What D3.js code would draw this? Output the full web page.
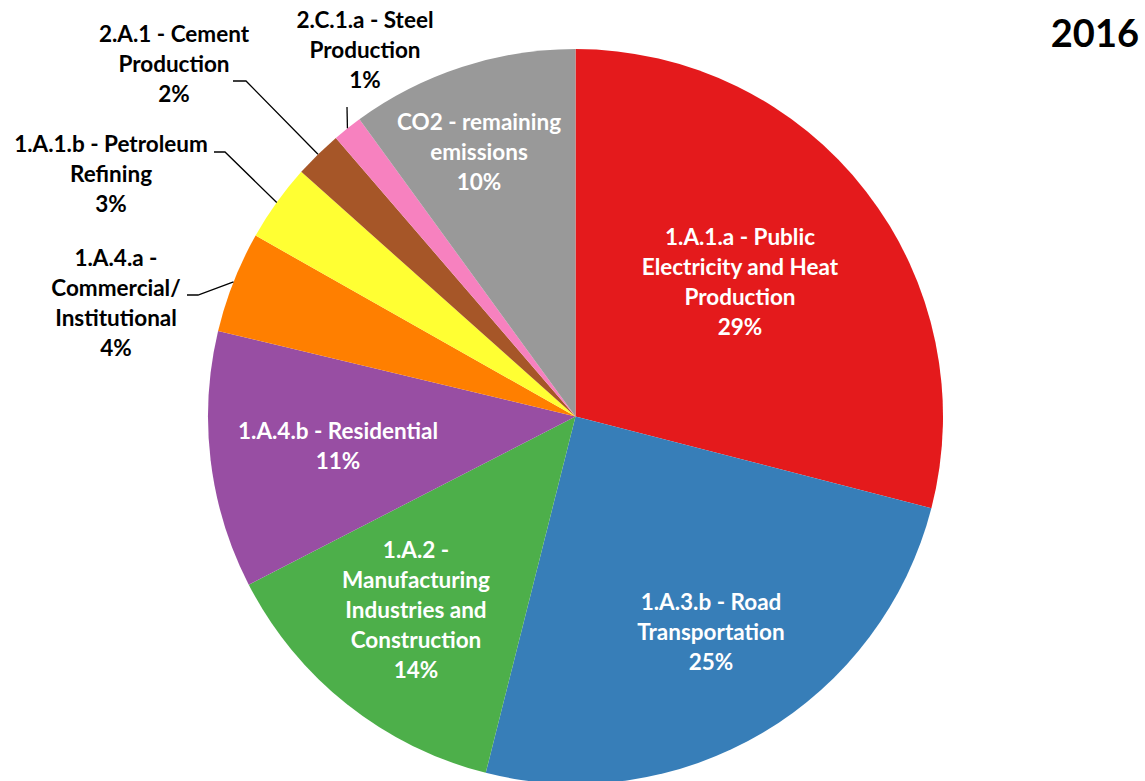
<!DOCTYPE html>
<html>
<head>
<meta charset="utf-8">
<script src="https://cdn.jsdelivr.net/npm/d3@7"></script>
<style>
  html, body { margin: 0; padding: 0; background: #fff; }
  svg { display: block; }
  text { font-family: Lato, "Open Sans", sans-serif; font-weight: 700; }
</style>
</head>
<body>
<svg id="chart" width="1145" height="781"></svg>
<script>
// CO2 emissions by source category, 2016 (share of total, %)
const categories = [
  "1.A.1.a - Public Electricity and Heat Production",
  "1.A.3.b - Road Transportation",
  "1.A.2 - Manufacturing Industries and Construction",
  "1.A.4.b - Residential",
  "1.A.4.a - Commercial/ Institutional",
  "1.A.1.b - Petroleum Refining",
  "2.A.1 - Cement Production",
  "2.C.1.a - Steel Production",
  "CO2 - remaining emissions"
];
const shares = [29.0, 24.9, 13.5, 11.3, 4.45, 3.4, 2.1, 1.3, 10.0];
const colors = ["#e41a1c", "#377eb8", "#4daf4a", "#984ea3", "#ff7f00",
                "#ffff33", "#a65628", "#f781bf", "#999999"];
const title = "2016";

// Label line breaks, placement and leader routing
const labelLines = [
  ["1.A.1.a - Public", "Electricity and Heat", "Production"],
  ["1.A.3.b - Road", "Transportation"],
  ["1.A.2 -", "Manufacturing", "Industries and", "Construction"],
  ["1.A.4.b - Residential"],
  ["1.A.4.a -", "Commercial/", "Institutional"],
  ["1.A.1.b - Petroleum", "Refining"],
  ["2.A.1 - Cement", "Production"],
  ["2.C.1.a - Steel", "Production"],
  ["CO2 - remaining", "emissions"]
];
// x, y of the first line centre; inside labels are white, outside black with a leader
const labelPos = [
  {x: 740, y: 237, inside: true},
  {x: 711, y: 602, inside: true},
  {x: 416, y: 550, inside: true},
  {x: 338, y: 431, inside: true},
  {x: 116, y: 258, inside: false, leader: [[187, 295], [198, 295]]},
  {x: 111, y: 144, inside: false, leader: [[214, 152], [225, 152]]},
  {x: 174, y: 34,  inside: false, leader: [[233, 81], [246, 81]]},
  {x: 365, y: 20,  inside: false, leader: [[347, 107]]},
  {x: 479, y: 122, inside: true}
];

const W = 1145, H = 781;
const cx = 575.5, cy = 416.5, R = 367.5;
const lineGap = 30;

const svg = d3.select("#chart");

const total = d3.sum(shares);
const data = categories.map((c, i) => ({name: c, value: shares[i], i}));

const pie = d3.pie().value(d => d.value).sort(null).startAngle(0).endAngle(2 * Math.PI);
const arcs = pie(data);
const arc = d3.arc().innerRadius(0).outerRadius(R);

const colorScale = d3.scaleOrdinal().domain(categories).range(colors);

const g = svg.append("g").attr("transform", `translate(${cx},${cy})`);

g.selectAll("path.slice")
  .data(arcs)
  .join("path")
  .attr("class", "slice")
  .attr("d", arc)
  .attr("fill", d => colorScale(d.data.name));

// leader lines for the small outside slices
const edgePoint = d => {
  const a = (d.startAngle + d.endAngle) / 2;
  return [cx + R * Math.sin(a), cy - R * Math.cos(a)];
};

arcs.forEach((d, i) => {
  const p = labelPos[i];
  if (p.inside || !p.leader) return;
  const pts = p.leader.concat([edgePoint(d)]);
  svg.append("path")
    .attr("d", d3.line()(pts))
    .attr("fill", "none")
    .attr("stroke", "#000")
    .attr("stroke-width", 1.3);
});

// data labels
arcs.forEach((d, i) => {
  const p = labelPos[i];
  const pct = Math.round(d.data.value / total * 100) + "%";
  const lines = labelLines[i].concat([pct]);
  const t = svg.append("text")
    .attr("text-anchor", "middle")
    .attr("font-size", 22.5)
    .attr("fill", p.inside ? "#fff" : "#000");
  lines.forEach((ln, k) => {
    t.append("tspan")
      .attr("x", p.x)
      .attr("y", p.y + k * lineGap)
      .attr("dy", "0.35em")
      .text(ln);
  });
});

svg.append("text")
  .attr("x", 1139)
  .attr("y", 47)
  .attr("text-anchor", "end")
  .attr("font-size", 38)
  .attr("fill", "#000")
  .text(title);
</script>
</body>
</html>
